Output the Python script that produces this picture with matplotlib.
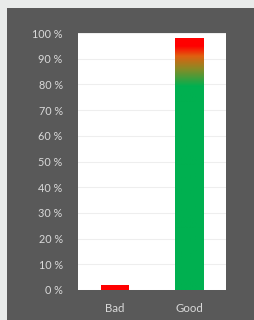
import matplotlib

matplotlib.use("Agg")
import matplotlib.pyplot as plt
import numpy as np
from matplotlib.colors import LinearSegmentedColormap
from matplotlib.patches import Rectangle

categories = ["Bad", "Good"]
values = [2, 98]
bar_colors = ["#ff0000", "#00b050"]
y_ticks = [0, 10, 20, 30, 40, 50, 60, 70, 80, 90, 100]
y_tick_labels = [f"{t} %" for t in y_ticks]

plt.rcParams["font.family"] = ["Lato", "DejaVu Sans"]

fig = plt.figure(figsize=(2.55, 3.2), dpi=100)
fig.patch.set_facecolor("#e9ebea")
# dark panel behind the chart
fig.add_artist(Rectangle((7 / 255, -0.01), 1.02, 1.01 - 8 / 320, transform=fig.transFigure,
                         facecolor="#595959", edgecolor="none", zorder=-5))

ax = fig.add_axes([78 / 255, 30 / 320, 148 / 255, 257 / 320])
ax.set_facecolor("white")

x = np.arange(len(categories))
bars = ax.bar(x, values, width=0.39, color=bar_colors, zorder=2)

# gradient on the Good bar: green -> orange -> red towards the top
good = bars[1]
cmap = LinearSegmentedColormap.from_list(
    "gr", [(0, "#00b050"), (0.81, "#00b050"), (0.88, "#8a8a25"), (0.93, "#e06010"), (0.97, "#ff0000"), (1, "#ff0000")]
)
grad = np.linspace(0, 1, 256).reshape(-1, 1)
bx = good.get_x()
img = ax.imshow(grad, cmap=cmap, origin="lower", aspect="auto",
                extent=[bx, bx + good.get_width(), 0, values[1]], zorder=3, interpolation="bilinear")
img.set_clip_path(good)
good.set_facecolor("none")

ax.set_xlim(-0.5, 1.5)
ax.set_ylim(0, 100)
ax.set_yticks(y_ticks)
ax.set_yticklabels(y_tick_labels)
ax.set_xticks(x)
ax.set_xticklabels(categories)
ax.yaxis.grid(True, color="#eeeeee", linewidth=0.8, zorder=0)
ax.set_axisbelow(True)
ax.tick_params(axis="y", length=0, pad=11, labelsize=7.8, labelcolor="#d9d9d9")
ax.tick_params(axis="x", length=0, pad=9, labelsize=8.2, labelcolor="#d9d9d9")
for s in ax.spines.values():
    s.set_visible(False)

fig.savefig("out.png", dpi=100, facecolor=fig.get_facecolor())
